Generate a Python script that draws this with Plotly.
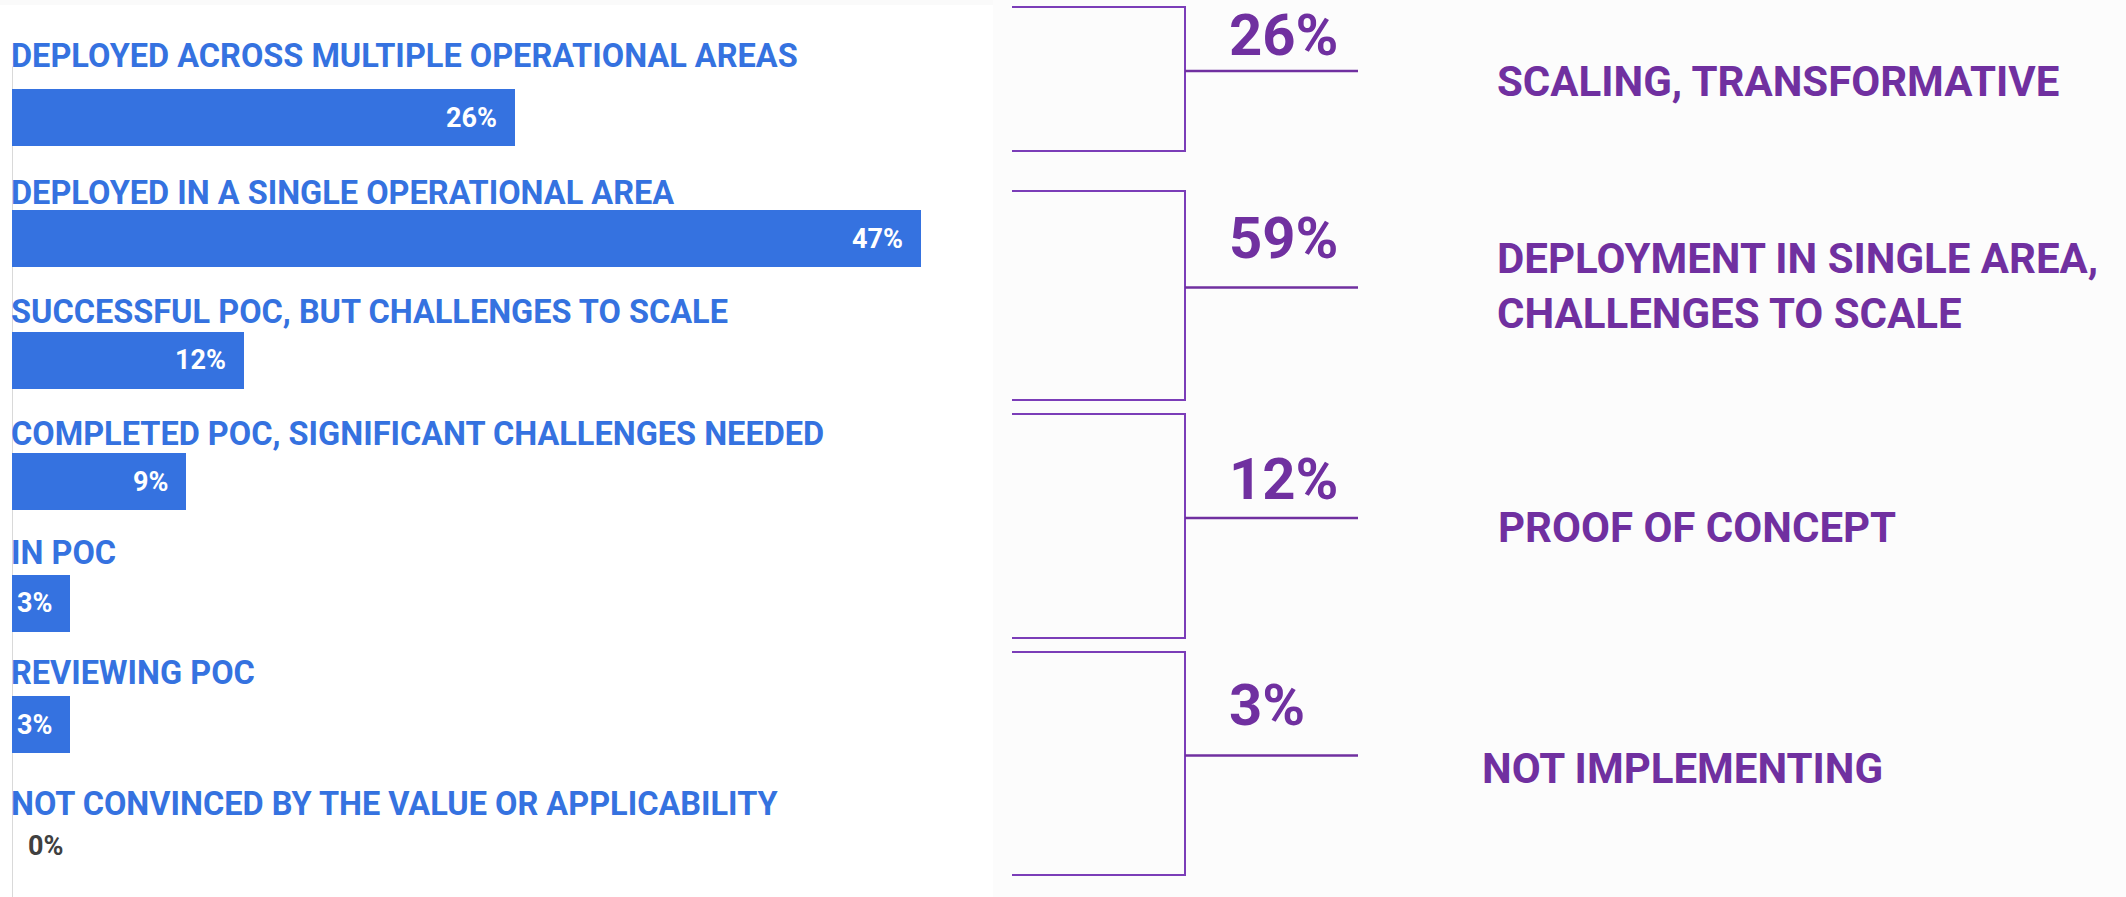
import plotly.graph_objects as go

# ---------------- data ----------------
categories = [
    "DEPLOYED ACROSS MULTIPLE OPERATIONAL AREAS",
    "DEPLOYED IN A SINGLE OPERATIONAL AREA",
    "SUCCESSFUL POC, BUT CHALLENGES TO SCALE",
    "COMPLETED POC, SIGNIFICANT CHALLENGES NEEDED",
    "IN POC",
    "REVIEWING POC",
    "NOT CONVINCED BY THE VALUE OR APPLICABILITY",
]
values = [26, 47, 12, 9, 3, 3, 0]

group_names = [
    "SCALING, TRANSFORMATIVE",
    "DEPLOYMENT IN SINGLE AREA,<br>CHALLENGES TO SCALE",
    "PROOF OF CONCEPT",
    "NOT IMPLEMENTING",
]
group_members = [[0], [1, 2], [3, 4], [5, 6]]

# ---------------- style ----------------
W, H = 2126, 897
BLUE = "#3572E0"
PURPLE = "#7030A0"
FONT = "Roboto, Liberation Sans, sans-serif"

X0_PX = 12            # pixel of x = 0
PX_PER_UNIT = 19.34   # pixels per percentage point
Y0_PX = 117.5         # pixel centre of first bar
ROW_PX = 121.4        # pixels per category row

label_shift = [62, 46, 48, 48, 50, 52, 42]          # category label offset above bar (px)
br_pad_top = [0.91, 0.395, 0.558, 0.597]           # bracket padding (rows)
br_pad_bot = [0.275, 0.327, 0.287, 0.24]
pct_shift = [36, 49, 39, 51]                        # group % above tick (px)
name_shift = [-11, 1, -10, -13]                     # group name vs tick (px)
name_x_px = [1498, 1498, 1499, 1483]


def px(xp):
    return xp / W


idx = list(range(len(categories)))
y_top = (0 - Y0_PX) / ROW_PX
y_bot = (H - Y0_PX) / ROW_PX
x_max = (W - X0_PX) / PX_PER_UNIT

fig = go.Figure()
fig.add_trace(go.Bar(
    x=values, y=idx, orientation="h",
    marker=dict(color=BLUE, line=dict(width=0)),
    width=0.47, hoverinfo="skip", showlegend=False,
))

shapes = []
annotations = []

# background panels
shapes.append(dict(type="rect", xref="paper", yref="paper", x0=px(993), x1=1, y0=0, y1=1,
                   fillcolor="#FCFCFC", line=dict(width=0), layer="below"))
shapes.append(dict(type="rect", xref="paper", yref="paper", x0=0, x1=px(993), y0=1 - 5 / H, y1=1,
                   fillcolor="#FAFAFA", line=dict(width=0), layer="below"))
# left axis line
shapes.append(dict(type="line", xref="x", yref="y", x0=0, x1=0, y0=-0.42, y1=y_bot,
                   line=dict(color="#D9D9D9", width=2), layer="below"))

for i, (cat, v) in enumerate(zip(categories, values)):
    annotations.append(dict(
        x=0, y=i, xref="x", yref="y", text=cat, showarrow=False,
        xanchor="left", yanchor="middle", yshift=label_shift[i], xshift=-3,
        font=dict(family=FONT, size=32.5, color=BLUE, weight=700),
    ))
    if v > 0:
        annotations.append(dict(
            x=v, y=i, xref="x", yref="y", text=f"{v}%", showarrow=False,
            xanchor="right", yanchor="middle", xshift=-16,
            font=dict(family=FONT, size=27, color="white", weight=700),
        ))
    else:
        annotations.append(dict(
            x=v, y=i, xref="x", yref="y", text=f"{v}%", showarrow=False,
            xanchor="left", yanchor="middle", xshift=14,
            font=dict(family=FONT, size=27, color="#404040", weight=700),
        ))

bx0, bx1, bx2 = px(1012), px(1185), px(1358)
for g, members in enumerate(group_members):
    top = members[0] - br_pad_top[g]
    bot = members[-1] + br_pad_bot[g]
    mid = (top + bot) / 2 - 8 / ROW_PX
    shapes.append(dict(type="path", xref="paper", yref="y",
                       path=f"M {bx0},{top} L {bx1},{top} L {bx1},{bot} L {bx0},{bot}",
                       line=dict(color="#7B3DB8", width=2)))
    shapes.append(dict(type="line", xref="paper", yref="y", x0=bx1, x1=bx2, y0=mid, y1=mid,
                       line=dict(color=PURPLE, width=2.5)))
    total = sum(values[m] for m in members)
    annotations.append(dict(
        x=px(1230), y=mid, xref="paper", yref="y", text=f"{total}%", showarrow=False,
        xanchor="left", yanchor="middle", yshift=pct_shift[g], xshift=-3,
        font=dict(family=FONT, size=58, color=PURPLE, weight=700),
    ))
    annotations.append(dict(
        x=px(name_x_px[g]), y=mid, xref="paper", yref="y", text=group_names[g], showarrow=False,
        xanchor="left", yanchor="middle", yshift=name_shift[g], xshift=-3, align="left",
        font=dict(family=FONT, size=42, color=PURPLE, weight=700),
    ))

fig.update_layout(
    width=W, height=H,
    margin=dict(l=0, r=0, t=0, b=0),
    paper_bgcolor="white", plot_bgcolor="rgba(0,0,0,0)",
    xaxis=dict(domain=[X0_PX / W, 1], range=[0, x_max], visible=False, fixedrange=True),
    yaxis=dict(range=[y_bot, y_top], visible=False, fixedrange=True),
    shapes=shapes, annotations=annotations,
    bargap=0,
)

fig.write_html(
    "out.html",
    config={"displayModeBar": False},
    post_script="document.body.style.margin='0';document.body.style.overflow='hidden';",
)
